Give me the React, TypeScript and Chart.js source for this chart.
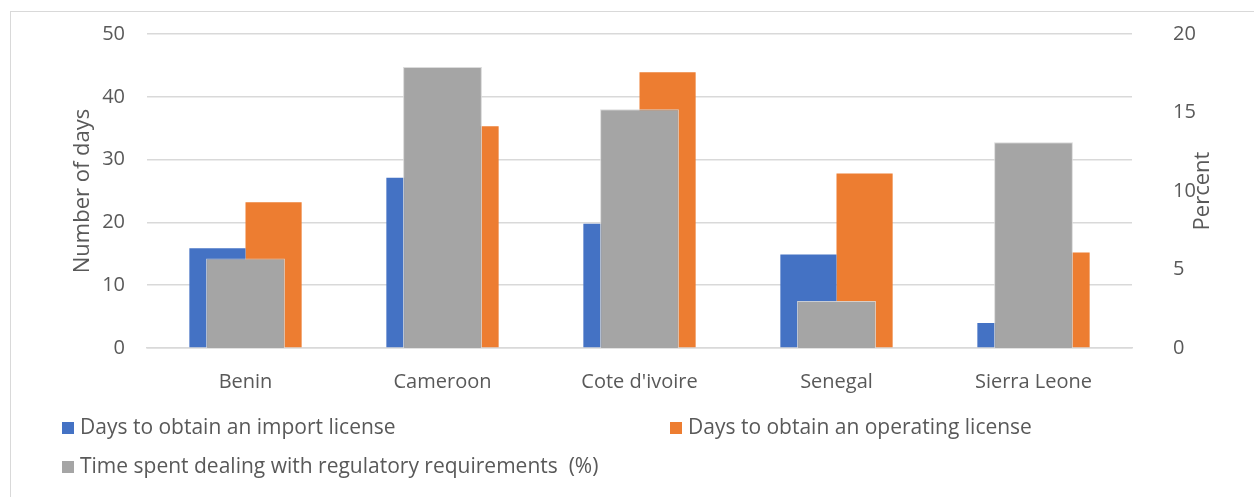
import React, { useEffect, useRef } from "react";
import { Chart, registerables } from "chart.js";

Chart.register(...registerables);

const countries = ["Benin", "Cameroon", "Cote d'ivoire", "Senegal", "Sierra Leone"];
const importLicenseDays = [15.9, 27.1, 19.8, 14.9, 4.0];
const operatingLicenseDays = [23.2, 35.3, 43.9, 27.8, 15.2];
const regulatoryTimePct = [5.7, 17.9, 15.2, 3.0, 13.1];
const seriesNames = [
  "Days to obtain an import license",
  "Days to obtain an operating license",
  "Time spent dealing with regulatory requirements  (%)",
];
const seriesColors = ["#4472C4", "#ED7D31", "#A5A5A5"];
const leftAxisTitle = "Number of days";
const rightAxisTitle = "Percent";

const FONT = "'Open Sans', sans-serif";
const TEXT = "#595959";

const gridLegend = {
  id: "gridLegend",
  afterDraw(chart: any) {
    const ctx = chart.ctx;
    const slots = [
      { x: 51, y: 416 },
      { x: 659, y: 416 },
      { x: 51, y: 455 },
    ];
    ctx.save();
    ctx.font = `21px ${FONT}`;
    ctx.textBaseline = "middle";
    ctx.textAlign = "left";
    chart.data.datasets.forEach((ds: any, i: number) => {
      const s = slots[i];
      ctx.fillStyle = ds.backgroundColor;
      ctx.fillRect(s.x, s.y - 6, 12, 12);
      ctx.fillStyle = TEXT;
      ctx.fillText(ds.label, s.x + 18, s.y);
    });
    // right axis title, reading bottom-to-top
    const area = chart.chartArea;
    ctx.translate(1192, (area.top + area.bottom) / 2);
    ctx.rotate(-Math.PI / 2);
    ctx.font = `22px ${FONT}`;
    ctx.textAlign = "center";
    ctx.fillText(rightAxisTitle, 0, 0);
    ctx.restore();
  },
};

export default function App() {
  const ref = useRef<HTMLCanvasElement | null>(null);
  useEffect(() => {
    if (!ref.current) return;
    const chart = new Chart(ref.current, {
      type: "bar",
      data: {
        labels: countries,
        datasets: [
          {
            label: seriesNames[0],
            data: importLicenseDays,
            backgroundColor: seriesColors[0],
            yAxisID: "y",
            order: 1,
            categoryPercentage: 0.57,
            barPercentage: 1,
          },
          {
            label: seriesNames[1],
            data: operatingLicenseDays,
            backgroundColor: seriesColors[1],
            yAxisID: "y",
            order: 1,
            categoryPercentage: 0.57,
            barPercentage: 1,
          },
          {
            label: seriesNames[2],
            data: regulatoryTimePct,
            backgroundColor: seriesColors[2],
            borderColor: "rgba(215,215,215,0.9)",
            borderWidth: 1,
            yAxisID: "y1",
            order: 0,
            grouped: false,
            categoryPercentage: 1,
            barPercentage: 0.4,
          },
        ],
      },
      options: {
        responsive: false,
        animation: false,
        layout: { padding: { left: 55, right: 34, top: 22, bottom: 0 } },
        plugins: { legend: { display: false }, tooltip: { enabled: false } },
        scales: {
          x: {
            type: "category",
            offset: true,
            grid: { display: false, drawTicks: false },
            border: { display: true, color: "#d9d9d9", width: 1.5 },
            ticks: { color: TEXT, font: { family: FONT, size: 20 }, padding: 22 },
            afterFit: (s: any) => {
              s.height = 149;
            },
          },
          y: {
            position: "left",
            min: 0,
            max: 50,
            ticks: { stepSize: 10, color: TEXT, font: { family: FONT, size: 20 }, padding: 22 },
            grid: { color: "#d9d9d9", lineWidth: 1.5, drawTicks: false },
            border: { display: false },
            title: {
              display: true,
              text: leftAxisTitle,
              color: TEXT,
              font: { family: FONT, size: 22 },
            },
            afterFit: (s: any) => {
              s.width = 81;
              s.paddingTop = 0;
              s.paddingBottom = 0;
            },
          },
          y1: {
            position: "right",
            min: 0,
            max: 20,
            ticks: { stepSize: 5, color: TEXT, font: { family: FONT, size: 20 }, padding: 41 },
            grid: { display: false, drawTicks: false },
            border: { display: false },
            afterFit: (s: any) => {
              s.width = 88;
              s.paddingTop = 0;
              s.paddingBottom = 0;
            },
          },
        },
      },
      plugins: [gridLegend],
    });
    return () => chart.destroy();
  }, []);

  return (
    <div
      style={{
        position: "absolute",
        left: 10,
        top: 11,
        width: 1243,
        height: 485,
        borderLeft: "1px solid #d9d9d9",
        borderTop: "1px solid #d9d9d9",
        background: "#fff",
      }}
    >
      <canvas ref={ref} width={1243} height={485} style={{ display: "block" }} />
    </div>
  );
}
